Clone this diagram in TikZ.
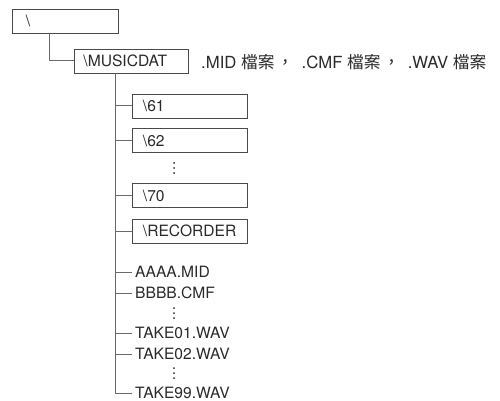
\documentclass[tikz,border=0pt]{standalone}
\usepackage{fontspec}
\setmainfont{TeX Gyre Heros}
\newfontfamily\cjk{Noto Sans CJK TC}
\usetikzlibrary{calc}
\definecolor{linec}{HTML}{6A6A6A}
\definecolor{boxc}{HTML}{4A4A4A}
\definecolor{txtc}{HTML}{2A2A2A}
\begin{document}
\begin{tikzpicture}[x=1pt,y=-1pt,
  every node/.style={text=txtc,font=\fontsize{15.6}{18}\selectfont},
  dirbox/.style={draw=boxc,line width=0.9pt,anchor=west,minimum height=24pt,align=left,inner ysep=0pt},
  conn/.style={draw=linec,line width=1pt},
  file/.style={anchor=west,inner xsep=3pt,inner ysep=0pt},
  dotc/.style={fill=txtc}]
\useasboundingbox (0,0) rectangle (500,401);
\node[dirbox,text width=79pt,inner xsep=13.5pt] (root) at (12,21) {\textbackslash};
\node[dirbox,text width=96pt,inner xsep=9pt] (music) at (74,61) {\textbackslash MUSICDAT};
\node[anchor=west,inner sep=0pt,font=\fontsize{16.7}{19}\selectfont] (label) at (201,62) {.MID {\cjk 檔案}\hspace{2.5pt}{\cjk ，}\hspace{8pt}.CMF {\cjk 檔案}\hspace{2.5pt}{\cjk ，}\hspace{8pt}.WAV {\cjk 檔案}};
\node[dirbox,text width=93pt,inner xsep=11pt] (d61) at (131.5,106) {\textbackslash 61};
\node[dirbox,text width=93pt,inner xsep=11pt] (d62) at (131.5,140.5) {\textbackslash 62};
\node[dirbox,text width=93pt,inner xsep=11pt] (d70) at (131.5,195.5) {\textbackslash 70};
\node[dirbox,text width=93pt,inner xsep=11pt] (drec) at (131.5,231) {\textbackslash RECORDER};
\node[file] (f1) at (132,272) {AAAA.MID};
\node[file] (f2) at (132,293) {BBBB.CMF};
\node[file] (f3) at (132,333) {TAKE01.WAV};
\node[file] (f4) at (132,354) {TAKE02.WAV};
\node[file] (f5) at (132,393) {TAKE99.WAV};
\foreach \y in {168,313,373}
  \foreach \d in {-5,0,5}
    \fill[dotc] (174,\y+\d) circle (1pt);
\coordinate (rootdrop) at ($(root.south west)+(37,0)$);
\coordinate (trunk) at ($(music.south west)+(41,0)$);
\draw[conn] (rootdrop) |- (music.west);
\draw[conn] (trunk) |- (f5.west);
\foreach \n in {d61,d62,d70,drec,f1,f2,f3,f4}
  \draw[conn] (\n.west) -- (\n.west -| trunk);
\end{tikzpicture}
\end{document}
